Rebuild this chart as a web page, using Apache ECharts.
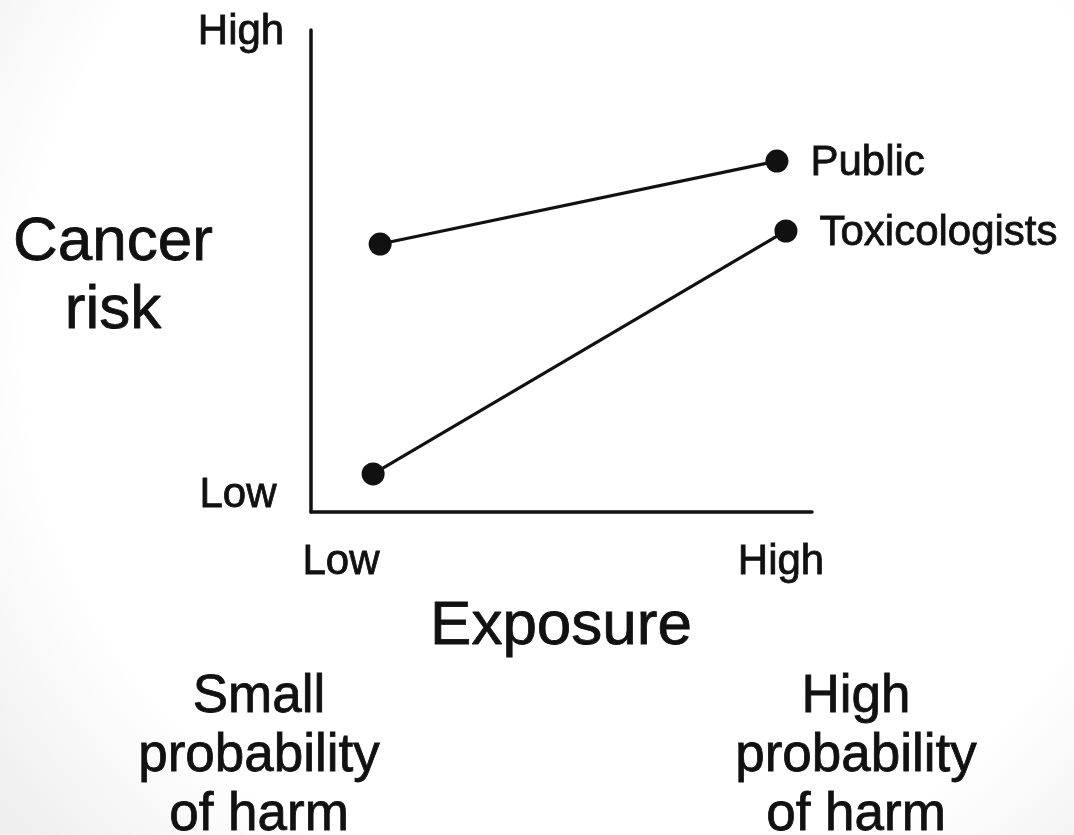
<!DOCTYPE html>
<html>
<head>
<meta charset="utf-8">
<script src="https://cdn.jsdelivr.net/npm/echarts@6/dist/echarts.min.js"></script>
<style>html,body{margin:0;padding:0;}#main{width:1074px;height:835px;}</style>
</head>
<body>
<div id="main"></div>
<script>
// Data (exposure 0..1, cancer risk 0..1)
const seriesNames = ['Public', 'Toxicologists'];
const publicData = [[0.138, 0.556], [0.930, 0.728]];
const toxData = [[0.124, 0.079], [0.948, 0.583]];
const yTickLabels = ['Low', 'High'];
const xTickLabels = ['Low', 'High'];
const yAxisTitle = 'Cancer\nrisk';
const xAxisTitle = 'Exposure';
const leftNote = 'Small\nprobability\nof harm';
const rightNote = 'High\nprobability\nof harm';

const FONT = '"Liberation Sans", Arial, sans-serif';
const INK = '#111111';

const chart = echarts.init(document.getElementById('main'));

function endLabel(name) {
  return {
    show: true,
    position: 'right',
    distance: 22,
    formatter: function (p) { return p.dataIndex === 1 ? name : ''; },
    fontFamily: FONT,
    fontSize: 42,
    color: INK,
    textBorderColor: INK,
    textBorderWidth: 0.8,
    offset: [0, 2]
  };
}

function txt(text, x, y, size, lh) {
  return {
    type: 'text',
    x: x, y: y,
    style: {
      text: text,
      fontFamily: FONT,
      fontSize: size,
      fill: INK,
      stroke: INK,
      lineWidth: 0.8,
      align: 'center',
      verticalAlign: 'middle',
      lineHeight: lh || size * 1.12
    }
  };
}

chart.setOption({
  backgroundColor: {
    type: 'radial', x: 0.55, y: 0.4, r: 0.9,
    colorStops: [
      { offset: 0, color: '#ffffff' },
      { offset: 0.75, color: '#ffffff' },
      { offset: 1, color: '#efefef' }
    ]
  },
  animation: false,
  grid: { left: 311, right: 262, top: 30, bottom: 323 },
  xAxis: {
    type: 'value', min: 0, max: 1,
    axisLine: { show: true, onZero: false, lineStyle: { color: INK, width: 3.5 } },
    axisTick: { show: false }, axisLabel: { show: false }, splitLine: { show: false }
  },
  yAxis: {
    type: 'value', min: 0, max: 1,
    axisLine: { show: true, onZero: false, lineStyle: { color: INK, width: 3.5 } },
    axisTick: { show: false }, axisLabel: { show: false }, splitLine: { show: false }
  },
  series: [
    {
      name: seriesNames[0], type: 'line', data: publicData,
      symbol: 'circle', symbolSize: 23,
      lineStyle: { color: INK, width: 3.2 },
      itemStyle: { color: INK },
      label: endLabel(seriesNames[0])
    },
    {
      name: seriesNames[1], type: 'line', data: toxData,
      symbol: 'circle', symbolSize: 23,
      lineStyle: { color: INK, width: 3.2 },
      itemStyle: { color: INK },
      label: endLabel(seriesNames[1])
    }
  ],
  graphic: [
    txt(yTickLabels[1], 241, 32, 42),
    txt(yTickLabels[0], 238, 495, 42),
    txt(xTickLabels[0], 341, 562, 42),
    txt(xTickLabels[1], 781, 562, 42),
    txt(yAxisTitle, 113, 277, 62, 68),
    txt(xAxisTitle, 561, 627, 62),
    txt(leftNote, 259, 756, 53, 59),
    txt(rightNote, 856, 756, 53, 59)
  ]
});
</script>
</body>
</html>
